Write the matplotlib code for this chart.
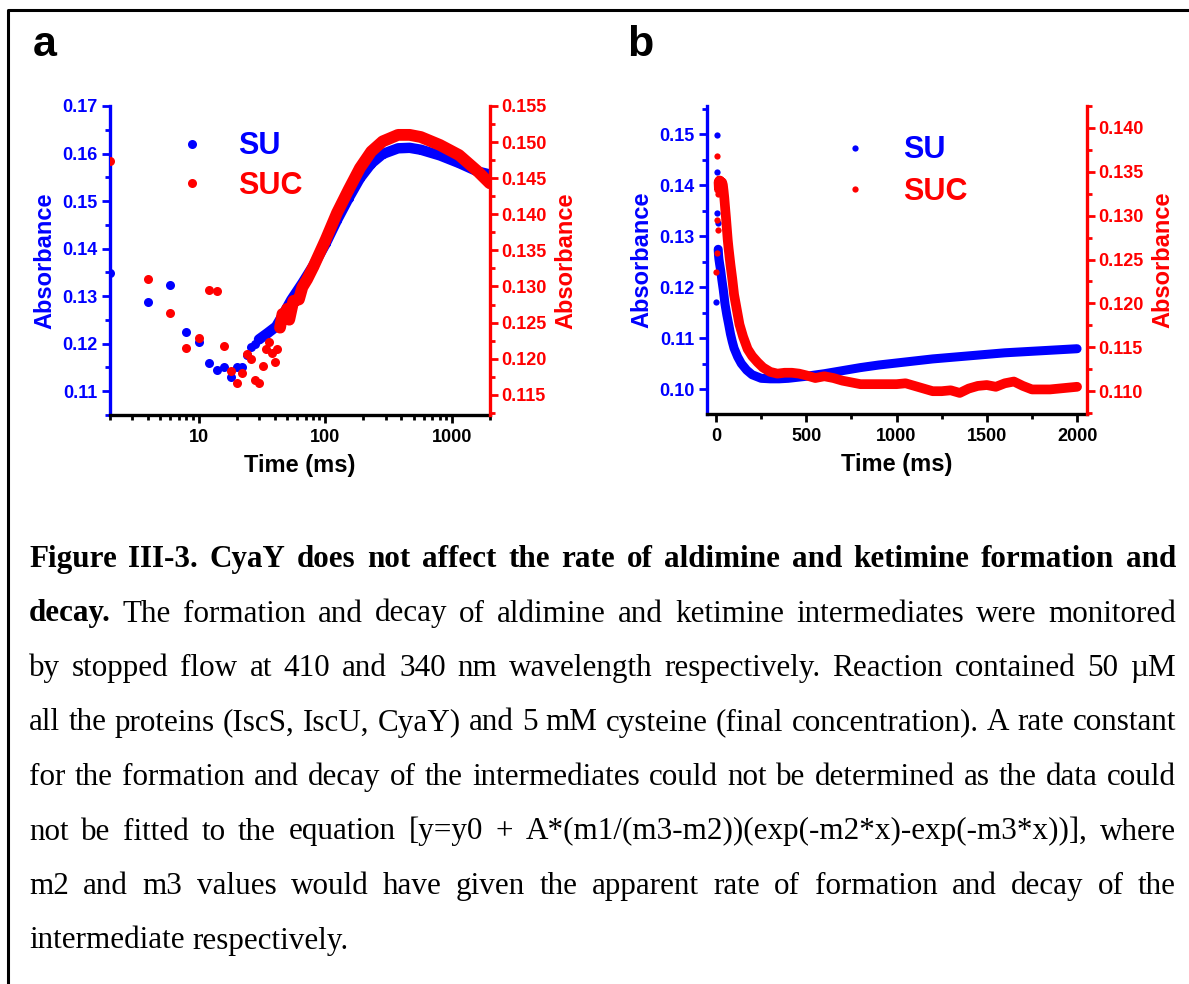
import matplotlib
matplotlib.use("Agg")
import matplotlib.pyplot as plt
from matplotlib.ticker import FixedLocator, FormatStrFormatter, MultipleLocator, LogLocator, NullFormatter
from matplotlib.lines import Line2D
import numpy as np

plt.rcParams["font.family"] = ["Liberation Sans", "DejaVu Sans"]
plt.rcParams["font.weight"] = "bold"
plt.rcParams["axes.labelweight"] = "bold"

BLUE = "#0000ff"
RED = "#ff0000"

# panel a: log time axis
t_a_su = [2, 4, 6, 8, 10, 12, 14, 16, 18, 20, 22, 24, 26, 28, 30, 35, 41, 47, 54, 66, 81, 101,
          124, 153, 188, 231, 284, 376, 464, 569, 805, 1140, 1610, 1990]
abs_a_su = [.1349, .1288, .1323, .1224, .1204, .1160, .1144, .1151, .1130, .1150, .1150, .1176,
            .1193, .1200, .1209, .1222, .1236, .1263, .1292, .1327, .1365, .1411, .1460, .1506,
            .1548, .1579, .1599, .1611, .1612, .1608, .1596, .1580, .1562, .1556]
t_a_suc = [2, 4, 6, 8, 10, 12, 14, 16, 18, 20, 22, 24, 26, 28, 30, 32, 34, 36, 38, 40, 42, 44,
           46, 48, 50, 52, 56, 62, 66, 72, 81, 101, 124, 153, 188, 231, 284, 376, 464, 569, 805,
           1140, 1610, 1990]
abs_a_suc = [.1474, .1311, .1263, .1215, .1228, .1295, .1294, .1218, .1183, .1167, .1180, .1207,
             .1200, .1170, .1167, .1190, .1213, .1223, .1208, .1196, .1213, .1243, .1262, .1256,
             .1269, .1254, .1280, .1282, .1299, .1310, .1328, .1365, .1402, .1434, .1464, .1487,
             .1501, .1510, .1510, .1507, .1496, .1482, .1459, .1443]

# panel b: linear time axis
t_b_su = [2, 4, 6, 8, 10, 12, 14, 16, 20, 26, 32, 40, 50, 60, 70, 80, 90, 100, 120, 140, 170,
          200, 250, 300, 350, 400, 450, 500, 600, 700, 800, 900, 1000, 1100, 1200, 1300, 1400,
          1500, 1600, 1700, 1800, 1900, 2000]
abs_b_su = [.1171, .1498, .1426, .1345, .1326, .1274, .1262, .1255, .1245, .1232, .1215, .1195,
            .1166, .1145, .1127, .1108, .1093, .1080, .1063, .1050, .1037, .1028, .1021, .1020,
            .1020, .1021, .1023, .1025, .1030, .1036, .1042, .1047, .1051, .1055, .1059, .1062,
            .1065, .1068, .1071, .1073, .1075, .1077, .1079]
t_b_suc = [2, 4, 6, 8, 10, 12, 14, 16, 18, 20, 22, 24, 26, 28, 30, 34, 38, 42, 46, 50, 55, 60,
           65, 70, 80, 90, 100, 115, 130, 150, 175, 200, 230, 260, 300, 340, 380, 420, 460, 500,
           550, 600, 650, 700, 750, 800, 850, 900, 1000, 1050, 1100, 1150, 1200, 1250, 1300,
           1350, 1400, 1450, 1500, 1550, 1600, 1650, 1700, 1750, 1800, 1850, 1900, 1950, 2000]
abs_b_suc = [.1236, .1257, .1368, .1295, .1284, .1325, .1338, .1330, .1340, .1335, .1340, .1332,
             .1338, .1335, .1330, .1338, .1335, .1328, .1320, .1310, .1298, .1285, .1272, .1262,
             .1244, .1228, .1210, .1193, .1176, .1162, .1148, .1140, .1133, .1127, .1122, .1120,
             .1121, .1121, .1120, .1118, .1115, .1117, .1115, .1112, .1110, .1108, .1108, .1108,
             .1108, .1109, .1106, .1103, .1100, .1100, .1101, .1098, .1103, .1106, .1107, .1105,
             .1109, .1111, .1106, .1102, .1102, .1102, .1103, .1104, .1105]

caption_lines = [
    [("Figure III-3. CyaY does not affect the rate of aldimine and ketimine formation and", True)],
    [("decay.", True), ("The formation and decay of aldimine and ketimine intermediates were monitored", False)],
    [("by stopped flow at 410 and 340 nm wavelength respectively. Reaction contained 50 \u00b5M", False)],
    [("all the proteins (IscS, IscU, CyaY) and 5 mM cysteine (final concentration). A rate constant", False)],
    [("for the formation and decay of the intermediates could not be determined as the data could", False)],
    [("not be fitted to the equation [y=y0 + A*(m1/(m3-m2))(exp(-m2*x)-exp(-m3*x))], where", False)],
    [("m2 and m3 values would have given the apparent rate of formation and decay of the", False)],
    [("intermediate respectively.", False)],
]

W, H = 1189, 984
fig = plt.figure(figsize=(W / 100, H / 100), dpi=100)
renderer = fig.canvas.get_renderer()


def box(l, t, r, b):
    return [l / W, 1 - b / H, (r - l) / W, (b - t) / H]


def style_axes(ax, ax2):
    for s in ("top", "right"):
        ax.spines[s].set_visible(False)
    for s in ("top", "left", "bottom"):
        ax2.spines[s].set_visible(False)
    ax.spines["left"].set_color(BLUE)
    ax.spines["left"].set_linewidth(2.4)
    ax.spines["bottom"].set_linewidth(2.4)
    ax2.spines["right"].set_color(RED)
    ax2.spines["right"].set_linewidth(2.4)
    ax.tick_params(axis="y", which="both", colors=BLUE, direction="out", width=2, labelsize=13, pad=3)
    ax.tick_params(axis="y", which="major", length=6)
    ax.tick_params(axis="y", which="minor", length=3.5)
    ax2.tick_params(axis="y", which="both", colors=RED, direction="out", width=2, labelsize=13, pad=2)
    ax2.tick_params(axis="y", which="major", length=6)
    ax2.tick_params(axis="y", which="minor", length=3.5)
    ax.tick_params(axis="x", which="both", direction="out", width=2, labelsize=13, pad=4)
    ax.tick_params(axis="x", which="major", length=6)
    ax.tick_params(axis="x", which="minor", length=3.5)
    ax.set_xlabel("Time (ms)", fontsize=17, labelpad=6)
    ax.set_ylabel("Absorbance", fontsize=17, color=BLUE, labelpad=4)
    ax2.set_ylabel("Absorbance", fontsize=17, color=RED, labelpad=6)


def draw_series(ax, t, v, dense_from, color, ms, lw):
    t = np.asarray(t, float)
    v = np.asarray(v, float)
    ax.plot(t, v, "o", color=color, ms=ms, mec="none", zorder=3)
    m = t >= dense_from
    ax.plot(t[m], v[m], "-o", color=color, lw=lw, ms=ms, mec="none",
            solid_capstyle="round", zorder=3)


def add_legend(ax, ms, fs, anchor_px, pad, spacing):
    handles = [Line2D([], [], ls="none", marker="o", color=BLUE, ms=ms, mec="none"),
               Line2D([], [], ls="none", marker="o", color=RED, ms=ms, mec="none")]
    leg = ax.legend(handles, ["SU", "SUC"], loc="center left", frameon=False,
                    bbox_to_anchor=(anchor_px[0] / W, 1 - anchor_px[1] / H),
                    bbox_transform=fig.transFigure, fontsize=fs, handlelength=1.0,
                    handletextpad=pad, labelspacing=spacing, borderpad=0, borderaxespad=0)
    leg.set_zorder(10)
    for txt, c in zip(leg.get_texts(), (BLUE, RED)):
        txt.set_color(c)
        txt.set_fontweight("bold")


# ---- panel a ----
axa = fig.add_axes(box(110, 106, 490, 415))
axa2 = axa.twinx()
axa.set_xscale("log")
axa.set_xlim(2, 2000)
axa.set_ylim(0.105, 0.17)
axa2.set_ylim(0.1122, 0.155)
axa.xaxis.set_major_locator(FixedLocator([10, 100, 1000]))
axa.xaxis.set_major_formatter(FormatStrFormatter("%d"))
axa.xaxis.set_minor_locator(LogLocator(base=10, subs=np.arange(2, 10)))
axa.xaxis.set_minor_formatter(NullFormatter())
axa.yaxis.set_major_locator(MultipleLocator(0.01))
axa.yaxis.set_minor_locator(MultipleLocator(0.005))
axa.yaxis.set_major_formatter(FormatStrFormatter("%.2f"))
axa2.yaxis.set_major_locator(MultipleLocator(0.005))
axa2.yaxis.set_minor_locator(MultipleLocator(0.0025))
axa2.yaxis.set_major_formatter(FormatStrFormatter("%.3f"))
style_axes(axa, axa2)
axa.set_zorder(axa2.get_zorder() - 1)
axa2.patch.set_visible(False)
draw_series(axa, t_a_su, abs_a_su, 30, BLUE, 6.5, 7.5)
draw_series(axa2, t_a_suc, abs_a_suc, 44, RED, 6.5, 8.5)
add_legend(axa2, 6.5, 22, (177, 166), 1.0, 0.3)

# ---- panel b ----
axb = fig.add_axes(box(707, 106, 1087, 414))
axb2 = axb.twinx()
axb.set_xlim(-50, 2055)
axb.set_ylim(0.0951, 0.1555)
axb2.set_ylim(0.1074, 0.1425)
axb.xaxis.set_major_locator(MultipleLocator(500))
axb.xaxis.set_minor_locator(MultipleLocator(250))
axb.yaxis.set_major_locator(MultipleLocator(0.01))
axb.yaxis.set_minor_locator(MultipleLocator(0.005))
axb.yaxis.set_major_formatter(FormatStrFormatter("%.2f"))
axb2.yaxis.set_major_locator(MultipleLocator(0.005))
axb2.yaxis.set_minor_locator(MultipleLocator(0.0025))
axb2.yaxis.set_major_formatter(FormatStrFormatter("%.3f"))
style_axes(axb, axb2)
axb.set_zorder(axb2.get_zorder() - 1)
axb2.patch.set_visible(False)
draw_series(axb, t_b_su, abs_b_su, 12, BLUE, 4.5, 6.5)
draw_series(axb2, t_b_suc, abs_b_suc, 14, RED, 4.5, 7)
add_legend(axb2, 4.5, 22, (840, 171), 1.05, 0.38)

# panel letters
fig.text(33 / W, 1 - 56 / H, "a", fontsize=31, fontweight="bold", va="baseline")
fig.text(627 / W, 1 - 56 / H, "b", fontsize=31, fontweight="bold", va="baseline")

# frame
fig.add_artist(Line2D([8 / W, 8 / W, 1], [0, 1 - 10 / H, 1 - 10 / H], color="black", lw=2.2,
                      transform=fig.transFigure))

# caption, justified word by word
left_px, right_px = 29, 1176
base0, step = 567, 54.5
cap_font = ["Liberation Serif", "DejaVu Serif"]


def text_width(s, size, bold=False):
    t = fig.text(0, 0, s, family=cap_font, fontsize=size, fontweight="bold" if bold else "normal")
    w = t.get_window_extent(renderer).width
    t.remove()
    return w


def split_words(segs):
    out = []
    for text, bold in segs:
        out += [(w, bold) for w in text.split(" ")]
    return out


# pick the size at which the widest line fits with plain spaces
probe = 20.0
space = text_width("a a", probe) - 2 * text_width("a", probe)
natural = []
for segs in caption_lines[:-1]:
    words = split_words(segs)
    natural.append(sum(text_width(w, probe, b) for w, b in words) + space * (len(words) - 1))
cap_size = probe * (right_px - left_px) / max(natural) * 0.995

space = text_width("a a", cap_size) - 2 * text_width("a", cap_size)
for i, segs in enumerate(caption_lines):
    y = 1 - (base0 + i * step) / H
    words = split_words(segs)
    arts = [fig.text(0, y, w, family=cap_font, fontsize=cap_size,
                     fontweight="bold" if b else "normal", va="baseline") for w, b in words]
    widths = [a.get_window_extent(renderer).width for a in arts]
    if i == len(caption_lines) - 1:
        gap = space
    else:
        gap = (right_px - left_px - sum(widths)) / (len(arts) - 1)
    x = left_px
    for a, w in zip(arts, widths):
        a.set_x(x / W)
        x += w + gap

fig.savefig("out.png", dpi=100, facecolor="white")
